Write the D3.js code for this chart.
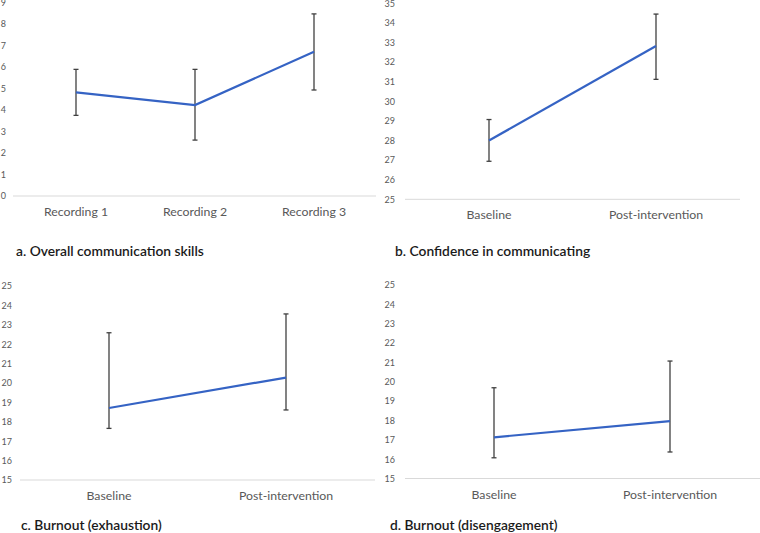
<!DOCTYPE html>
<html><head><meta charset="utf-8">
<script src="https://cdn.jsdelivr.net/npm/d3@7/dist/d3.min.js"></script>
<style>body{margin:0;background:#fff}svg{display:block;font-family:Lato,"Open Sans",sans-serif}</style>
</head><body>
<script>
// Panel a
const catsA = ["Recording 1","Recording 2","Recording 3"];
const meanA = [4.82, 4.23, 6.71];
const hiA = [5.89, 5.89, 8.47];
const loA = [3.75, 2.60, 4.93];
const ticksA = [0,1,2,3,4,5,6,7,8,9];
// Panel b
const catsB = ["Baseline","Post-intervention"];
const meanB = [28.0, 32.82];
const hiB = [29.07, 34.45];
const loB = [26.94, 31.12];
const ticksB = [25,26,27,28,29,30,31,32,33,34,35];
// Panel c
const catsC = ["Baseline","Post-intervention"];
const meanC = [18.71, 20.28];
const hiC = [22.59, 23.56];
const loC = [17.66, 18.61];
const ticksC = [15,16,17,18,19,20,21,22,23,24,25];
// Panel d
const catsD = ["Baseline","Post-intervention"];
const meanD = [17.13, 17.97];
const hiD = [19.69, 21.07];
const loD = [16.07, 16.37];
const ticksD = [15,16,17,18,19,20,21,22,23,24,25];

const titles = ["a. Overall communication skills","b. Confidence in communicating","c. Burnout (exhaustion)","d. Burnout (disengagement)"];

const svg = d3.select("body").append("svg").attr("width",760).attr("height",533);

const panels = [
  {cats:catsA, mean:meanA, hi:hiA, lo:loA, ticks:ticksA, title:titles[0],
   x0:16.5, x1:373.5, yTop:2.5, yBot:196, lineX0:13, lineX1:376, labX:6, catY:212, titleX:16, titleY:251},
  {cats:catsB, mean:meanB, hi:hiB, lo:loB, ticks:ticksB, title:titles[1],
   x0:405.5, x1:739.5, yTop:3.3, yBot:199.3, lineX0:405, lineX1:740, labX:395, catY:215, titleX:395, titleY:251},
  {cats:catsC, mean:meanC, hi:hiC, lo:loC, ticks:ticksC, title:titles[2],
   x0:20.5, x1:374.5, yTop:286, yBot:480, lineX0:20, lineX1:375, labX:12, catY:496, titleX:21, titleY:525},
  {cats:catsD, mean:meanD, hi:hiD, lo:loD, ticks:ticksD, title:titles[3],
   x0:406, x1:758, yTop:285, yBot:478.5, lineX0:405, lineX1:760, labX:395, catY:494.5, titleX:390, titleY:525}
];

panels.forEach(p => {
  const g = svg.append("g");
  const x = d3.scaleBand().domain(p.cats).range([p.x0, p.x1]);
  const y = d3.scaleLinear().domain([p.ticks[0], p.ticks[p.ticks.length-1]]).range([p.yBot, p.yTop]);
  g.append("line").attr("x1",p.lineX0).attr("x2",p.lineX1).attr("y1",y(p.ticks[0])).attr("y2",y(p.ticks[0]))
    .attr("stroke","#d9d9d9").attr("stroke-width",1);
  const yAxis = d3.axisLeft(y).tickValues(p.ticks).tickSize(0).tickPadding(0).tickFormat(d3.format("d"));
  const ya = g.append("g").attr("transform",`translate(${p.labX},0)`).call(yAxis);
  ya.select(".domain").remove();
  ya.selectAll("text").attr("fill","#595959").attr("font-size",9).attr("font-family","Lato,'Open Sans',sans-serif");
  const xAxis = d3.axisBottom(x).tickSize(0).tickPadding(0);
  const xa = g.append("g").attr("transform",`translate(0,${p.catY})`).call(xAxis);
  xa.select(".domain").remove();
  xa.selectAll("text").attr("fill","#595959").attr("font-size",12.3).attr("dy","0.35em").attr("y",0)
    .attr("font-family","Lato,'Open Sans',sans-serif");
  const cx = c => x(c) + x.bandwidth()/2;
  const eb = g.selectAll(".eb").data(p.cats).enter().append("g");
  eb.append("line").attr("x1",cx).attr("x2",cx).attr("y1",(c,i)=>y(p.hi[i])).attr("y2",(c,i)=>y(p.lo[i]))
    .attr("stroke","#404040").attr("stroke-width",1.3);
  eb.append("line").attr("x1",c=>cx(c)-2.5).attr("x2",c=>cx(c)+2.5).attr("y1",(c,i)=>y(p.hi[i])).attr("y2",(c,i)=>y(p.hi[i]))
    .attr("stroke","#404040").attr("stroke-width",1.3);
  eb.append("line").attr("x1",c=>cx(c)-2.5).attr("x2",c=>cx(c)+2.5).attr("y1",(c,i)=>y(p.lo[i])).attr("y2",(c,i)=>y(p.lo[i]))
    .attr("stroke","#404040").attr("stroke-width",1.3);
  const line = d3.line().x((d,i)=>cx(p.cats[i])).y(d=>y(d));
  g.append("path").datum(p.mean).attr("d",line).attr("fill","none").attr("stroke","#3563c4").attr("stroke-width",2.2);
  g.append("text").attr("x",p.titleX).attr("y",p.titleY).attr("dy","0.35em").text(p.title)
    .attr("font-size",13.8).attr("font-weight",600).attr("fill","#1a1a1a");
});
</script>
</body></html>
